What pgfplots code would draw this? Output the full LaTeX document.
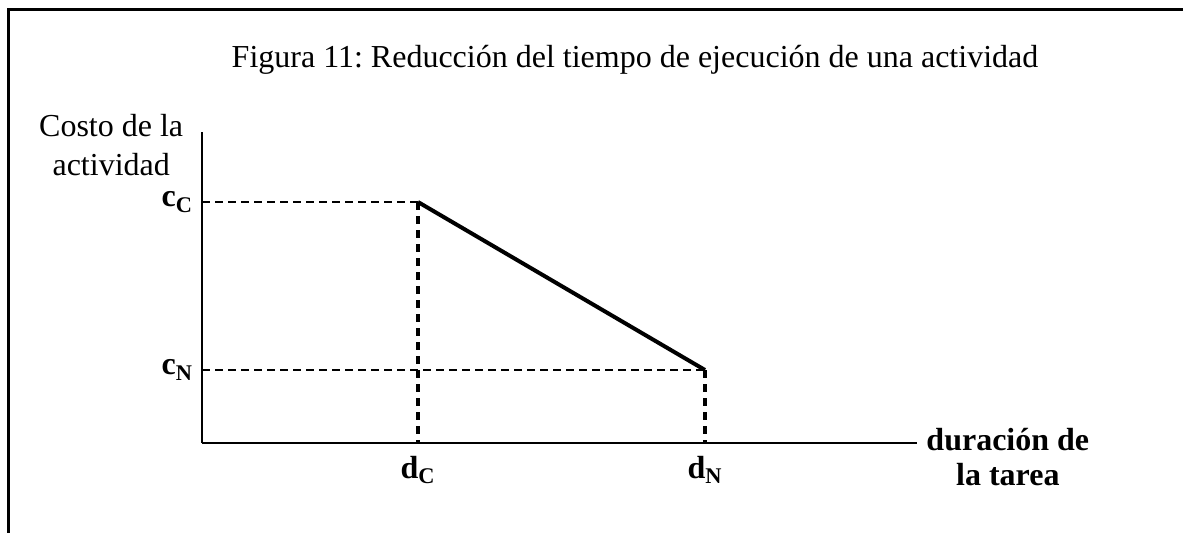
\documentclass[border=0pt]{standalone}
\usepackage{fontspec}
\setmainfont{Liberation Serif}
\usepackage{pgfplots}
\pgfplotsset{compat=1.18}
\frenchspacing

\begin{document}
\begin{tikzpicture}
% picture is laid out in reference pixels, 1 px = 0.5pt, origin top left
\path[use as bounding box] (0,0) rectangle (591.5pt,-266pt);
\begin{scope}[x=0.5pt,y=-0.5pt]
  \clip (0,0) rectangle (1183,532);
  % frame, cut off on the right and at the bottom
  \draw[line width=1.5pt] (8,560) -- (8,9) -- (1220,9);
\end{scope}

\begin{axis}[
  at={(101pt,-221.5pt)}, anchor=origin,
  scale only axis,
  width=357.5pt, height=155.5pt,
  xmin=0, xmax=715, ymin=0, ymax=311,
  axis lines=left,
  axis line style={line width=1.1pt, -},
  clip=false,
  major tick length=0pt,
  xtick={216,503},
  xticklabels={\textbf{d}\textsubscript{\textbf{C}}, \textbf{d}\textsubscript{\textbf{N}}},
  ytick={73,241},
  yticklabels={\textbf{c}\textsubscript{\textbf{N}}, \textbf{c}\textsubscript{\textbf{C}}},
  tick label style={font=\fontsize{16}{18}\selectfont},
  xticklabel style={yshift=-3pt},
  yticklabel style={xshift=-1pt},
  title={Figura 11: Reducción del tiempo de ejecución de una actividad},
  title style={at={(axis description cs:0.6056,1.193)}, anchor=center,
    yshift=0pt, font=\fontsize{16}{18}\selectfont},
  ylabel={Costo de la\\actividad},
  ylabel style={at={(axis description cs:-0.127,0.958)}, anchor=center,
    rotate=-90, align=center, font=\fontsize{16}{19.5}\selectfont},
  xlabel={\textbf{duración de}\\\textbf{la tarea}},
  xlabel style={at={(axis description cs:1.127,-0.045)}, anchor=center,
    align=center, font=\fontsize{16}{17.5}\selectfont},
]
% guide lines from the axes to the two corner points
\addplot[black, line width=1.3pt, dash pattern=on 4pt off 2.5pt] coordinates {(0,241) (216,241)};
\addplot[black, line width=1.3pt, dash pattern=on 4pt off 2.5pt] coordinates {(0,73) (503,73)};
\addplot[black, line width=2pt, dash pattern=on 4pt off 3pt] coordinates {(216,241) (216,0)};
\addplot[black, line width=2pt, dash pattern=on 4pt off 3pt] coordinates {(503,73) (503,0)};
% crash cost line
\addplot[black, line width=2pt] coordinates {(216,241) (503,73)};
\end{axis}
\end{tikzpicture}
\end{document}
